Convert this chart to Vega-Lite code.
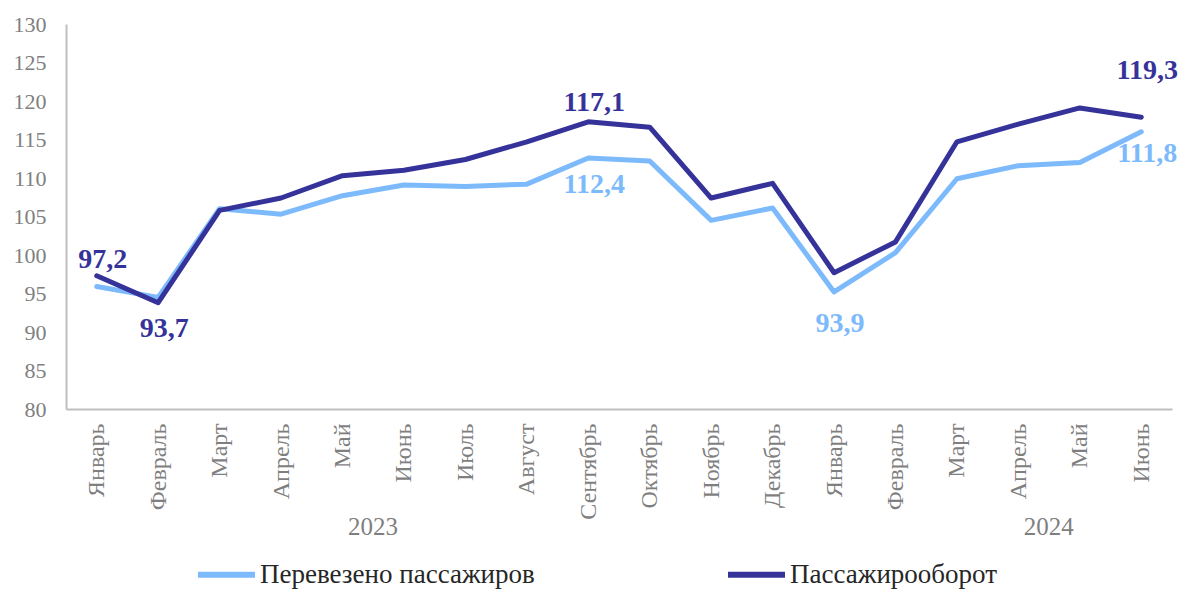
{
  "$schema": "https://vega.github.io/schema/vega-lite/v6.json",
  "autosize": {"type": "none"},
  "width": 1106,
  "height": 385,
  "padding": {"left": 66, "top": 24, "right": 28, "bottom": 183},
  "background": "white",
  "config": {
    "view": {"stroke": null},
    "font": "Liberation Serif",
    "axis": {"domainColor": "#bfbfbf", "domainWidth": 2, "ticks": false, "grid": false, "labelFont": "Liberation Serif", "labelColor": "#808080", "title": null, "labelOverlap": false}
  },
  "datasets": {
    "series": [
      {"m": "Январь 2023", "series": "Перевезено пассажиров", "v": 95.9},
      {"m": "Февраль 2023", "series": "Перевезено пассажиров", "v": 94.5},
      {"m": "Март 2023", "series": "Перевезено пассажиров", "v": 106.0},
      {"m": "Апрель 2023", "series": "Перевезено пассажиров", "v": 105.3},
      {"m": "Май 2023", "series": "Перевезено пассажиров", "v": 107.7},
      {"m": "Июнь 2023", "series": "Перевезено пассажиров", "v": 109.1},
      {"m": "Июль 2023", "series": "Перевезено пассажиров", "v": 108.9},
      {"m": "Август 2023", "series": "Перевезено пассажиров", "v": 109.2},
      {"m": "Сентябрь 2023", "series": "Перевезено пассажиров", "v": 112.6},
      {"m": "Октябрь 2023", "series": "Перевезено пассажиров", "v": 112.2},
      {"m": "Ноябрь 2023", "series": "Перевезено пассажиров", "v": 104.5},
      {"m": "Декабрь 2023", "series": "Перевезено пассажиров", "v": 106.1},
      {"m": "Январь 2024", "series": "Перевезено пассажиров", "v": 95.2},
      {"m": "Февраль 2024", "series": "Перевезено пассажиров", "v": 100.3},
      {"m": "Март 2024", "series": "Перевезено пассажиров", "v": 109.9},
      {"m": "Апрель 2024", "series": "Перевезено пассажиров", "v": 111.6},
      {"m": "Май 2024", "series": "Перевезено пассажиров", "v": 112.0},
      {"m": "Июнь 2024", "series": "Перевезено пассажиров", "v": 116.0},
      {"m": "Январь 2023", "series": "Пассажирооборот", "v": 97.3},
      {"m": "Февраль 2023", "series": "Пассажирооборот", "v": 93.8},
      {"m": "Март 2023", "series": "Пассажирооборот", "v": 105.8},
      {"m": "Апрель 2023", "series": "Пассажирооборот", "v": 107.4},
      {"m": "Май 2023", "series": "Пассажирооборот", "v": 110.3},
      {"m": "Июнь 2023", "series": "Пассажирооборот", "v": 111.0},
      {"m": "Июль 2023", "series": "Пассажирооборот", "v": 112.4},
      {"m": "Август 2023", "series": "Пассажирооборот", "v": 114.7},
      {"m": "Сентябрь 2023", "series": "Пассажирооборот", "v": 117.3},
      {"m": "Октябрь 2023", "series": "Пассажирооборот", "v": 116.6},
      {"m": "Ноябрь 2023", "series": "Пассажирооборот", "v": 107.4},
      {"m": "Декабрь 2023", "series": "Пассажирооборот", "v": 109.3},
      {"m": "Январь 2024", "series": "Пассажирооборот", "v": 97.7},
      {"m": "Февраль 2024", "series": "Пассажирооборот", "v": 101.7},
      {"m": "Март 2024", "series": "Пассажирооборот", "v": 114.7},
      {"m": "Апрель 2024", "series": "Пассажирооборот", "v": 117.0},
      {"m": "Май 2024", "series": "Пассажирооборот", "v": 119.1},
      {"m": "Июнь 2024", "series": "Пассажирооборот", "v": 117.9}
    ],
    "labels": [
      {"m": "Январь 2023", "series": "Пассажирооборот", "text": "97,2", "pos": 99.3},
      {"m": "Февраль 2023", "series": "Пассажирооборот", "text": "93,7", "pos": 90.4},
      {"m": "Сентябрь 2023", "series": "Пассажирооборот", "text": "117,1", "pos": 119.7},
      {"m": "Сентябрь 2023", "series": "Перевезено пассажиров", "text": "112,4", "pos": 109.1},
      {"m": "Январь 2024", "series": "Перевезено пассажиров", "text": "93,9", "pos": 91.0},
      {"m": "Июнь 2024", "series": "Пассажирооборот", "text": "119,3", "pos": 123.9},
      {"m": "Июнь 2024", "series": "Перевезено пассажиров", "text": "111,8", "pos": 113.1}
    ],
    "years": [
      {"m": "Июнь 2023", "text": "2023"},
      {"m": "Май 2024", "text": "2024"}
    ]
  },
  "encoding": {
    "x": {
      "field": "m", "type": "ordinal", "sort": null,
      "scale": {"type": "point", "padding": 0.5,
        "domain": ["Январь 2023","Февраль 2023","Март 2023","Апрель 2023","Май 2023","Июнь 2023","Июль 2023","Август 2023","Сентябрь 2023","Октябрь 2023","Ноябрь 2023","Декабрь 2023","Январь 2024","Февраль 2024","Март 2024","Апрель 2024","Май 2024","Июнь 2024"]},
      "axis": {"labelAngle": -90, "labelFontSize": 24, "labelPadding": 14, "labelExpr": "split(datum.label, ' ')[0]", "labelColor": "#7f7f7f"}
    }
  },
  "layer": [
    {
      "data": {"name": "series"},
      "mark": {"type": "line", "strokeWidth": 5, "strokeJoin": "round", "strokeCap": "round"},
      "encoding": {
        "y": {"field": "v", "type": "quantitative",
          "scale": {"domain": [80, 130], "nice": false, "zero": false},
          "axis": {"values": [80,85,90,95,100,105,110,115,120,125,130], "labelFontSize": 22, "labelPadding": 20, "labelOverlap": false}},
        "color": {"field": "series", "type": "nominal",
          "scale": {"domain": ["Перевезено пассажиров", "Пассажирооборот"], "range": ["#7dbafc", "#35339a"]},
          "legend": {"title": null, "orient": "none", "legendX": 129, "legendY": 519, "direction": "horizontal", "columns": 2, "columnPadding": 181, "padding": 0,
            "symbolType": "stroke", "symbolSize": 3249, "symbolStrokeWidth": 6, "labelFont": "Liberation Serif", "labelFontSize": 27, "labelColor": "#262626", "labelOffset": 2, "labelLimit": 600}}
      }
    },
    {
      "data": {"name": "labels"},
      "mark": {"type": "text", "font": "Liberation Serif", "fontWeight": "bold", "fontSize": 28, "baseline": "middle", "align": "center", "dx": 6},
      "encoding": {
        "y": {"field": "pos", "type": "quantitative",
          "axis": {"values": [80,85,90,95,100,105,110,115,120,125,130], "labelFontSize": 22, "labelPadding": 20, "labelOverlap": false}},
        "text": {"field": "text"},
        "fill": {"field": "series", "type": "nominal",
          "scale": {"domain": ["Перевезено пассажиров", "Пассажирооборот"], "range": ["#7dbafc", "#35339a"]},
          "legend": null}
      }
    },
    {
      "data": {"name": "years"},
      "mark": {"type": "text", "font": "Liberation Serif", "fontSize": 25, "color": "#7f7f7f", "baseline": "middle", "align": "center", "dx": -31, "dy": 118},
      "encoding": {
        "y": {"datum": 80,
          "axis": {"values": [80,85,90,95,100,105,110,115,120,125,130], "labelFontSize": 22, "labelPadding": 20, "labelOverlap": false}},
        "text": {"field": "text"}
      }
    }
  ]
}
